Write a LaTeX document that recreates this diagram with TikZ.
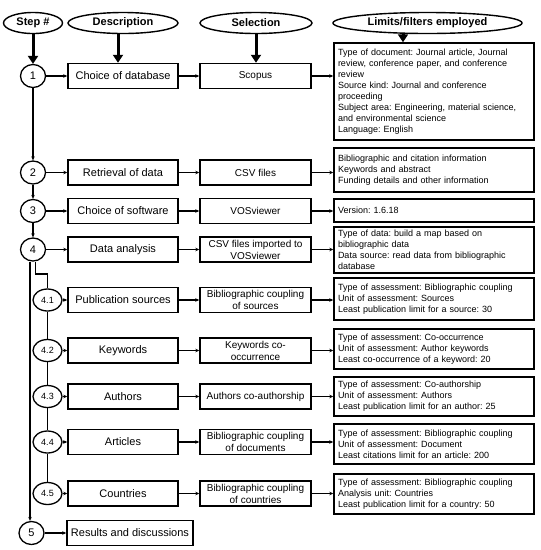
\documentclass[tikz,border=0pt]{standalone}
\usepackage{fontspec}
\setmainfont{Liberation Sans}
\usetikzlibrary{shapes.geometric,arrows.meta}
\frenchspacing
\begin{document}
\begin{tikzpicture}[x=1pt,y=-1pt,
 hdr/.style={ellipse,draw,line width=1.4pt,inner sep=0pt,minimum height=21pt,font=\fontsize{11}{13}\selectfont\bfseries},
 num/.style={ellipse,draw,line width=1.3pt,inner sep=0pt,minimum width=25pt,minimum height=23pt,font=\fontsize{11}{13}\selectfont},
 subnum/.style={num,minimum width=29pt,minimum height=22pt,font=\fontsize{9}{11}\selectfont},
 box/.style={draw,line width=1.4pt,minimum height=25pt,inner xsep=2pt,inner ysep=1pt,align=center,font=\fontsize{11}{12.5}\selectfont},
 dbox/.style={box,minimum width=110pt},
 sbox/.style={box,minimum width=111pt,font=\fontsize{10}{12}\selectfont},
 lbox/.style={draw,line width=1.4pt,text width=192pt,inner xsep=4pt,inner ysep=1pt,align=left,font=\fontsize{9}{11}\selectfont},
 big/.style={line width=3pt,-{Triangle[length=8pt,width=10pt]}},
 con/.style={line width=1.2pt,-{Stealth[length=4pt,width=3.5pt]}},
 lin/.style={line width=1.2pt}
]
\useasboundingbox[fill=white] (0,0) rectangle (541,550);

% headers
\node[hdr,minimum width=59pt] (hs) at (33,23) {Step \#};
\node[hdr,minimum width=110pt] (hd) at (123,23) {Description};
\node[hdr,minimum width=112pt] (hsel) at (256,23) {Selection};
\node[hdr,minimum width=189pt] (hl) at (427.5,23) {Limits/filters employed};

% row 1
\node[num] (c1) at (33,76) {1};
\node[dbox] (d1) at (123,76) {Choice of database};
\node[sbox] (s1) at (255.5,76) {Scopus};
\node[lbox,minimum height=97pt] (l1) at (434,91.5) {Type of document: Journal article, Journal\\review, conference paper, and conference\\review\\Source kind: Journal and conference\\proceeding\\Subject area: Engineering, material science,\\and environmental science\\Language: English};

% row 2
\node[num] (c2) at (33,172.5) {2};
\node[dbox] (d2) at (123,172.5) {Retrieval of data};
\node[sbox] (s2) at (255.5,172.5) {CSV files};
\node[lbox,minimum height=44pt] (l2) at (434,170) {Bibliographic and citation information\\Keywords and abstract\\Funding details and other information};

% row 3
\node[num] (c3) at (33,211) {3};
\node[dbox] (d3) at (123,211) {Choice of software};
\node[sbox] (s3) at (255.5,211) {VOSviewer};
\node[lbox,minimum height=23pt] (l3) at (434,210.5) {Version: 1.6.18};

% row 4
\node[num] (c4) at (33,249.5) {4};
\node[dbox] (d4) at (123,249.5) {Data analysis};
\node[sbox] (s4) at (255.5,249.5) {CSV files imported to\\VOSviewer};
\node[lbox,minimum height=46pt] (l4) at (434,250) {\makebox[192pt][s]{Type of data: build a map based on}\\bibliographic data\\\makebox[192pt][s]{Data source: read data from bibliographic}\\database};

% row 4.1
\node[subnum] (c41) at (47.5,300) {4.1};
\node[dbox] (d41) at (123,300) {Publication sources};
\node[sbox] (s41) at (255.5,300) {Bibliographic coupling\\of sources};
\node[lbox,minimum height=42pt] (l41) at (434,299) {Type of assessment: Bibliographic coupling\\Unit of assessment: Sources\\Least publication limit for a source: 30};

% row 4.2
\node[subnum] (c42) at (47.5,350.5) {4.2};
\node[dbox] (d42) at (123,350.5) {Keywords};
\node[sbox] (s42) at (255.5,350.5) {Keywords co-\\occurrence};
\node[lbox,minimum height=40pt] (l42) at (434,349) {Type of assessment: Co-occurrence\\Unit of assessment: Author keywords\\Least co-occurrence of a keyword: 20};

% row 4.3
\node[subnum] (c43) at (47.5,396.5) {4.3};
\node[dbox] (d43) at (123,396.5) {Authors};
\node[sbox] (s43) at (255.5,396.5) {Authors co-authorship};
\node[lbox,minimum height=39pt] (l43) at (434,396.5) {Type of assessment: Co-authorship\\Unit of assessment: Authors\\Least publication limit for an author: 25};

% row 4.4
\node[subnum] (c44) at (47.5,442) {4.4};
\node[dbox] (d44) at (123,442) {Articles};
\node[sbox] (s44) at (255.5,442) {Bibliographic coupling\\of documents};
\node[lbox,minimum height=40pt] (l44) at (434,444) {Type of assessment: Bibliographic coupling\\Unit of assessment: Document\\Least citations limit for an article: 200};

% row 4.5
\node[subnum] (c45) at (47.5,493.5) {4.5};
\node[dbox] (d45) at (123,493.5) {Countries};
\node[sbox] (s45) at (255.5,493.5) {Bibliographic coupling\\of countries};
\node[lbox,minimum height=40pt] (l45) at (434,494) {Type of assessment: Bibliographic coupling\\Analysis unit: Countries\\Least publication limit for a country: 50};

% row 5
\node[num] (c5) at (31.5,533) {5};
\node[box,minimum width=126pt] (r5) at (130,533) {Results and discussions};

% header arrows
\draw[big] (hs.south) -- (c1.north);
\draw[big] ([xshift=-5pt]hd.south) -- ([xshift=-5pt]hd.south |- d1.north);
\draw[big] (hsel.south) -- (hsel.south |- s1.north);
\draw[big] ([xshift=-24.5pt]hl.south) -- ([xshift=-24.5pt]hl.south |- l1.north);

% horizontal arrows
\foreach \r in {1,2,3,4,41,42,43,44,45}{
  \draw[con] (c\r) -- (d\r);
  \draw[con] (d\r) -- (s\r);
  \draw[con] (s\r.east) -- (s\r.east -| l\r.west);
}
\draw[con] (c5) -- (r5);

% vertical connectors
\draw[con] (c1) -- (c2);
\draw[con] (c2) -- (c3);
\draw[con] (c3) -- (c4);
\draw[con] ([xshift=-3pt]c4.south) -- ([xshift=-3pt]c4.south |- c5.north);
\coordinate (k4) at (47.5,274);
\draw[lin] ([xshift=2.5pt]c4.south) |- (k4) -- (c41.north);
\draw[lin] (c41) -- (c42);
\draw[lin] (c42) -- (c43);
\draw[lin] (c43) -- (c44);
\draw[lin] (c44) -- (c45);
\end{tikzpicture}
\end{document}
